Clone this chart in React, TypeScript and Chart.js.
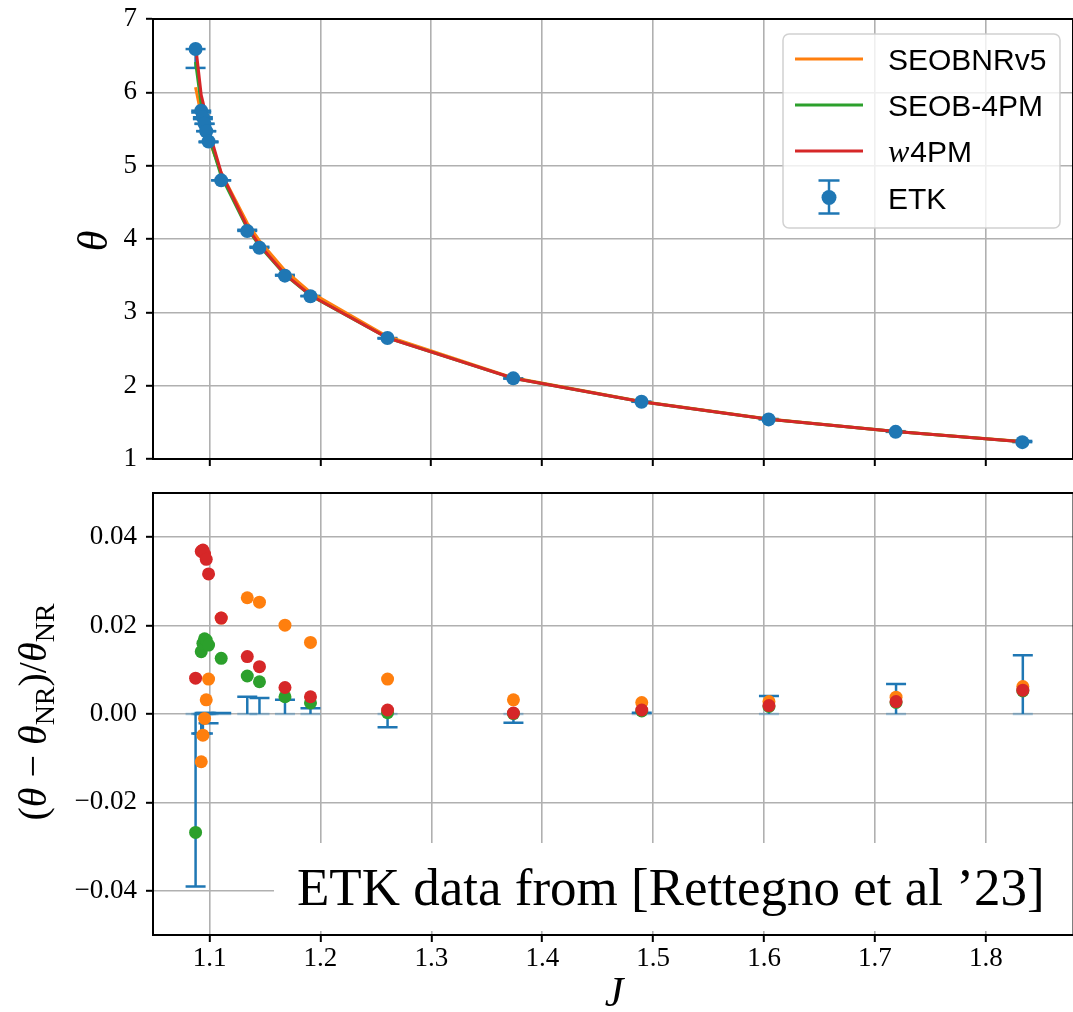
import React, { useEffect, useRef } from 'react';
import { Chart, registerables } from 'chart.js';

Chart.register(...registerables);

// ---------------- data ----------------
const J_NR = [1.0874, 1.0925, 1.094, 1.0955, 1.097, 1.0991, 1.1105, 1.134, 1.145, 1.168, 1.191, 1.2605, 1.374, 1.4897, 1.6044, 1.719, 1.8333];
const THETA_NR = [6.59, 5.75, 5.66, 5.57, 5.47, 5.33, 4.8, 4.11, 3.88, 3.5, 3.22, 2.65, 2.1, 1.78, 1.54, 1.37, 1.23];
const ERR_NR = [-0.039, -0.0044, -0.0044, 0.0002, 0.0002, -0.0021, 0.0002, 0.0039, 0.0036, 0.0032, 0.0013, -0.003, -0.002, 0.0003, 0.0041, 0.0068, 0.0133];
const REL_SEOBNRV5 = [-0.079, -0.0108, -0.0048, -0.001, 0.0032, 0.0079, 0.0217, 0.0263, 0.0253, 0.0201, 0.0162, 0.0079, 0.0032, 0.0026, 0.0028, 0.0038, 0.0062];
const REL_SEOB4PM = [-0.0268, 0.0141, 0.016, 0.017, 0.0167, 0.0156, 0.0126, 0.0086, 0.0073, 0.0039, 0.0025, 0.0003, 0.0001, 0.0007, 0.0017, 0.0026, 0.0052];
const REL_W4PM = [0.0081, 0.0368, 0.0371, 0.0362, 0.035, 0.0317, 0.0217, 0.013, 0.0107, 0.006, 0.0039, 0.0009, 0.0002, 0.0009, 0.0019, 0.0028, 0.0054];

const SERIES_LABELS = ['SEOBNRv5', 'SEOB-4PM', 'w4PM', 'ETK'];

const X_TICKS = [1.1, 1.2, 1.3, 1.4, 1.5, 1.6, 1.7, 1.8];
const X_TICK_LABELS = ['1.1', '1.2', '1.3', '1.4', '1.5', '1.6', '1.7', '1.8'];
const THETA_TICKS = [1, 2, 3, 4, 5, 6, 7];
const THETA_TICK_LABELS = ['1', '2', '3', '4', '5', '6', '7'];
const REL_TICKS = [-0.04, -0.02, 0, 0.02, 0.04];
const REL_TICK_LABELS = ['\u22120.04', '\u22120.02', '0.00', '0.02', '0.04'];

const X_MIN = 1.049;
const X_MAX = 1.879;
const THETA_MIN = 1;
const THETA_MAX = 7;
const REL_MIN = -0.05;
const REL_MAX = 0.05;

const ANNOTATION = 'ETK data from [Rettegno et al \u201923]';

// ---------------- styles ----------------
const BLUE = '#1f77b4';
const ORANGE = '#ff7f0e';
const GREEN = '#2ca02c';
const RED = '#d62728';
const GRID = '#b0b0b0';
const SERIF = '"Liberation Serif", "Times New Roman", serif';
const SANS = '"Liberation Sans", Arial, sans-serif';

const AXIS_LEFT = 153;

function modelTheta(rel: number[]) {
  return J_NR.map((j, i) => ({ x: j, y: THETA_NR[i] * (1 + rel[i]) }));
}
function relPoints(rel: number[]) {
  return J_NR.map((j, i) => ({ x: j, y: rel[i] }));
}

function xScale(showLabels: boolean, height: number) {
  return {
    type: 'linear',
    min: X_MIN,
    max: X_MAX,
    afterBuildTicks: (s: any) => {
      s.ticks = X_TICKS.map((v) => ({ value: v }));
    },
    afterFit: (s: any) => {
      s.height = height;
      s.paddingLeft = 0;
      s.paddingRight = 0;
    },
    grid: { color: GRID, lineWidth: 1.6, tickColor: '#000', tickLength: 7, tickWidth: 2 },
    border: { color: '#000', width: 2 },
    ticks: {
      display: showLabels,
      autoSkip: false,
      maxRotation: 0,
      padding: 1,
      color: '#000',
      font: { family: SERIF, size: 27 },
      callback: (_v: any, i: number) => X_TICK_LABELS[i] ?? '',
    },
  };
}

function yScale(min: number, max: number, ticks: number[], labels: string[]) {
  return {
    type: 'linear',
    min,
    max,
    afterBuildTicks: (s: any) => {
      s.ticks = ticks.map((v) => ({ value: v }));
    },
    afterFit: (s: any) => {
      s.width = AXIS_LEFT;
      s.paddingTop = 0;
      s.paddingBottom = 0;
    },
    grid: { color: GRID, lineWidth: 1.6, tickColor: '#000', tickLength: 7, tickWidth: 2 },
    border: { color: '#000', width: 2 },
    ticks: {
      autoSkip: false,
      padding: 9,
      color: '#000',
      font: { family: SERIF, size: 27 },
      callback: (_v: any, i: number) => labels[i] ?? '',
    },
  };
}

type Seg = { t: string; font: string; dy?: number };
function drawSegs(ctx: CanvasRenderingContext2D, segs: Seg[], cx: number, cy: number, rotate: boolean) {
  ctx.save();
  ctx.translate(cx, cy);
  if (rotate) ctx.rotate(-Math.PI / 2);
  ctx.textAlign = 'left';
  ctx.textBaseline = 'alphabetic';
  ctx.fillStyle = '#000';
  let w = 0;
  for (const s of segs) {
    ctx.font = s.font;
    w += ctx.measureText(s.t).width;
  }
  let x = -w / 2;
  for (const s of segs) {
    ctx.font = s.font;
    ctx.fillText(s.t, x, s.dy || 0);
    x += ctx.measureText(s.t).width;
  }
  ctx.restore();
}

function cap(ctx: CanvasRenderingContext2D, x: number, y: number, half: number) {
  ctx.beginPath();
  ctx.moveTo(x - half, y);
  ctx.lineTo(x + half, y);
  ctx.stroke();
}

function makeErrPlugin(mode: 'abs' | 'rel') {
  return {
    id: 'errbars_' + mode,
    beforeDatasetsDraw(chart: any) {
      const { ctx, chartArea } = chart;
      const xs = chart.scales.x;
      const ys = chart.scales.y;
      ctx.save();
      ctx.beginPath();
      ctx.rect(chartArea.left, chartArea.top, chartArea.right - chartArea.left, chartArea.bottom - chartArea.top);
      ctx.clip();
      ctx.lineWidth = 2.5;
      J_NR.forEach((j, i) => {
        const px = xs.getPixelForValue(j);
        const base = mode === 'abs' ? THETA_NR[i] : 0;
        const end = mode === 'abs' ? THETA_NR[i] * (1 + ERR_NR[i]) : ERR_NR[i];
        const p0 = ys.getPixelForValue(base);
        const p1 = ys.getPixelForValue(end);
        ctx.strokeStyle = BLUE;
        ctx.beginPath();
        ctx.moveTo(px, p0);
        ctx.lineTo(px, p1);
        ctx.stroke();
        cap(ctx, px, p1, 10);
        ctx.strokeStyle = mode === 'abs' ? BLUE : 'rgba(31,119,180,0.35)';
        cap(ctx, px, p0, 10);
      });
      ctx.restore();
    },
  };
}

const spinesPlugin = {
  id: 'spines',
  afterDraw(chart: any) {
    const { ctx, chartArea } = chart;
    ctx.save();
    ctx.strokeStyle = '#000';
    ctx.lineWidth = 2;
    ctx.beginPath();
    ctx.moveTo(chartArea.left, chartArea.top);
    ctx.lineTo(chartArea.right, chartArea.top);
    ctx.lineTo(chartArea.right, chartArea.bottom);
    ctx.stroke();
    ctx.restore();
  },
};

function roundRect(ctx: CanvasRenderingContext2D, x: number, y: number, w: number, h: number, r: number) {
  ctx.beginPath();
  ctx.moveTo(x + r, y);
  ctx.lineTo(x + w - r, y);
  ctx.arcTo(x + w, y, x + w, y + r, r);
  ctx.lineTo(x + w, y + h - r);
  ctx.arcTo(x + w, y + h, x + w - r, y + h, r);
  ctx.lineTo(x + r, y + h);
  ctx.arcTo(x, y + h, x, y + h - r, r);
  ctx.lineTo(x, y + r);
  ctx.arcTo(x, y, x + r, y, r);
  ctx.closePath();
}

const legendPlugin = {
  id: 'customLegend',
  afterDraw(chart: any) {
    const ctx: CanvasRenderingContext2D = chart.ctx;
    ctx.save();
    roundRect(ctx, 783, 34, 277, 194, 6);
    ctx.fillStyle = 'rgba(255,255,255,0.8)';
    ctx.fill();
    ctx.strokeStyle = 'rgba(204,204,204,0.9)';
    ctx.lineWidth = 1.5;
    ctx.stroke();
    const rows = [59, 105, 151, 197.5];
    const datasets = chart.data.datasets;
    datasets.forEach((ds: any, i: number) => {
      const y = rows[i];
      if (ds.showLine) {
        ctx.strokeStyle = ds.borderColor;
        ctx.lineWidth = 3;
        ctx.beginPath();
        ctx.moveTo(795, y);
        ctx.lineTo(863, y);
        ctx.stroke();
      } else {
        ctx.strokeStyle = ds.backgroundColor;
        ctx.lineWidth = 2.5;
        ctx.beginPath();
        ctx.moveTo(829, y - 17);
        ctx.lineTo(829, y + 16);
        ctx.stroke();
        cap(ctx, 829, y - 17, 10.5);
        cap(ctx, 829, y + 16, 10.5);
        ctx.fillStyle = ds.backgroundColor;
        ctx.beginPath();
        ctx.arc(829, y, 7.5, 0, Math.PI * 2);
        ctx.fill();
      }
      ctx.fillStyle = '#000';
      ctx.textBaseline = 'alphabetic';
      ctx.textAlign = 'left';
      const label: string = ds.label;
      let x = 888;
      if (label.startsWith('w')) {
        ctx.font = `italic 32px ${SERIF}`;
        ctx.fillText('w', x, y + 11);
        x += ctx.measureText('w').width + 1;
        ctx.font = `30px ${SANS}`;
        ctx.fillText(label.slice(1), x, y + 11);
      } else {
        ctx.font = `30px ${SANS}`;
        ctx.fillText(label, x, y + 11);
      }
    });
    ctx.restore();
  },
};

const topTitlePlugin = {
  id: 'topTitle',
  afterDraw(chart: any) {
    drawSegs(chart.ctx, [{ t: '\u03b8', font: `italic 42px ${SERIF}` }], 107, 241, true);
  },
};

const bottomTitlesPlugin = {
  id: 'bottomTitles',
  afterDraw(chart: any) {
    const ctx = chart.ctx;
    const R = `40px ${SERIF}`;
    const I = `italic 40px ${SERIF}`;
    const S = `28px ${SERIF}`;
    drawSegs(
      ctx,
      [
        { t: '(', font: R },
        { t: '\u03b8', font: I },
        { t: ' \u2212 ', font: R },
        { t: '\u03b8', font: I },
        { t: 'NR', font: S, dy: 8 },
        { t: ')', font: R },
        { t: '/', font: R },
        { t: '\u03b8', font: I },
        { t: 'NR', font: S, dy: 8 },
      ],
      46,
      242,
      true
    );
    drawSegs(ctx, [{ t: 'J', font: `italic 42px ${SERIF}` }], 614, 536, false);
  },
};

const annotationPlugin = {
  id: 'annotationBox',
  afterDatasetsDraw(chart: any) {
    const ctx: CanvasRenderingContext2D = chart.ctx;
    ctx.save();
    ctx.fillStyle = '#ffffff';
    ctx.fillRect(274, 373, 800, 88);
    ctx.fillStyle = '#000';
    ctx.font = `53px ${SERIF}`;
    ctx.textAlign = 'left';
    ctx.textBaseline = 'alphabetic';
    ctx.fillText(ANNOTATION, 297, 435);
    ctx.restore();
  },
};

export default function App() {
  const topRef = useRef<HTMLCanvasElement>(null);
  const botRef = useRef<HTMLCanvasElement>(null);

  useEffect(() => {
    const common = {
      responsive: false,
      animation: false,
      events: [],
      devicePixelRatio: 1,
    };

    const c1 = new Chart(topRef.current as HTMLCanvasElement, {
      type: 'scatter',
      data: {
        datasets: [
          { label: SERIES_LABELS[0], data: modelTheta(REL_SEOBNRV5), showLine: true, borderColor: ORANGE, borderWidth: 3, pointRadius: 0, tension: 0, order: 3 },
          { label: SERIES_LABELS[1], data: modelTheta(REL_SEOB4PM), showLine: true, borderColor: GREEN, borderWidth: 3, pointRadius: 0, tension: 0, order: 2 },
          { label: SERIES_LABELS[2], data: modelTheta(REL_W4PM), showLine: true, borderColor: RED, borderWidth: 3, pointRadius: 0, tension: 0, order: 1 },
          { label: SERIES_LABELS[3], data: J_NR.map((j, i) => ({ x: j, y: THETA_NR[i] })), backgroundColor: BLUE, borderWidth: 0, pointRadius: 7, order: 0 },
        ],
      } as any,
      options: {
        ...common,
        layout: { padding: { top: 19, right: 5, left: 0, bottom: 0 } },
        plugins: { legend: { display: false }, tooltip: { enabled: false } },
        scales: {
          x: xScale(false, 11),
          y: yScale(THETA_MIN, THETA_MAX, THETA_TICKS, THETA_TICK_LABELS),
        },
      } as any,
      plugins: [makeErrPlugin('abs'), spinesPlugin, legendPlugin, topTitlePlugin] as any,
    });

    const c2 = new Chart(botRef.current as HTMLCanvasElement, {
      type: 'scatter',
      data: {
        datasets: [
          { label: SERIES_LABELS[0], data: relPoints(REL_SEOBNRV5), backgroundColor: ORANGE, borderWidth: 0, pointRadius: 6.5, order: 2 },
          { label: SERIES_LABELS[1], data: relPoints(REL_SEOB4PM), backgroundColor: GREEN, borderWidth: 0, pointRadius: 6.5, order: 1 },
          { label: SERIES_LABELS[2], data: relPoints(REL_W4PM), backgroundColor: RED, borderWidth: 0, pointRadius: 6.5, order: 0 },
        ],
      } as any,
      options: {
        ...common,
        layout: { padding: { top: 23, right: 5, left: 0, bottom: 0 } },
        plugins: { legend: { display: false }, tooltip: { enabled: false } },
        scales: {
          x: xScale(true, 77),
          y: yScale(REL_MIN, REL_MAX, REL_TICKS, REL_TICK_LABELS),
        },
      } as any,
      plugins: [makeErrPlugin('rel'), spinesPlugin, annotationPlugin, bottomTitlesPlugin] as any,
    });

    return () => {
      c1.destroy();
      c2.destroy();
    };
  }, []);

  return (
    <div style={{ position: 'absolute', left: 0, top: 0, width: 1073, height: 1012, overflow: 'hidden', background: '#fff' }}>
      <canvas ref={topRef} width={1080} height={470} style={{ position: 'absolute', left: 0, top: 0 }} />
      <canvas ref={botRef} width={1080} height={542} style={{ position: 'absolute', left: 0, top: 470 }} />
    </div>
  );
}
